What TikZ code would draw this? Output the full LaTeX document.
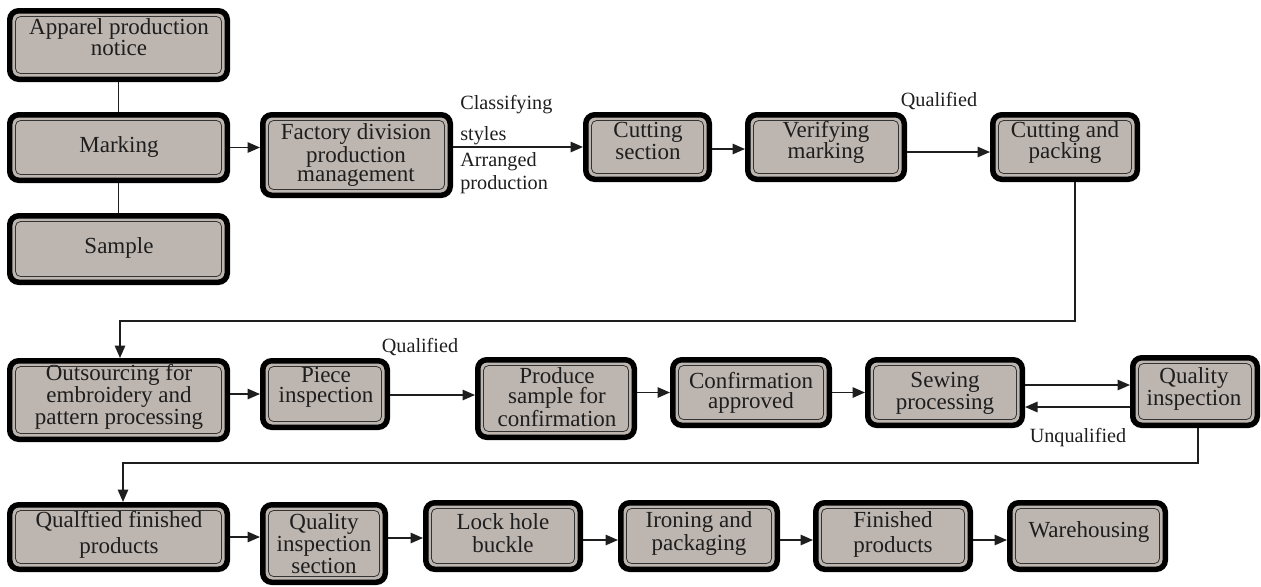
\documentclass[tikz,border=0pt]{standalone}
\usepackage{fontspec}
\setmainfont{Liberation Serif}
\usetikzlibrary{arrows.meta,calc}
\definecolor{boxgray}{RGB}{189,181,175}
\definecolor{inkc}{RGB}{30,30,30}
\tikzset{
  fbox/.style={draw=black, fill=boxgray, line width=0.11cm, rounded corners=0.18cm, inner sep=0pt},
  finner/.style={draw=black!80, line width=0.45pt, rounded corners=0.1cm},
  ftext/.style={align=center, inner sep=0pt, text=inkc},
  lbl/.style={inner sep=0pt, text=inkc, font=\fontsize{11.5}{13}\selectfont},
  conn/.style={draw=inkc, line width=0.03cm},
  arr/.style={conn, -{Triangle[length=0.25cm,width=0.21cm]}}
}
\newcommand\flowbox[9]{%
  \node[fbox, minimum width={(#4-#2-5.5)*0.02cm}, minimum height={(#5-#3-5.5)*0.02cm}] (#1) at ({(#2+#4)/2},{(#3+#5)/2}) {};
  \draw[finner] ($(#1.north west)+(8.5,8.5)$) rectangle ($(#1.south east)+(-8.5,-8.5)$);
  \node[ftext, font=\fontsize{13.1}{#8}\selectfont] (#1-t) at (#6,#7) {#9};
}
\begin{document}
\begin{tikzpicture}[x=0.02cm, y=-0.02cm]
\useasboundingbox (0,0) rectangle (1261,586);
% row 1
\flowbox{apn}{7}{8}{230}{82}{119}{37}{11.6pt}{Apparel production\\notice}
\flowbox{mark}{7}{112}{230}{183}{119}{147}{11pt}{Marking}
\flowbox{samp}{7}{213}{230}{285}{119}{248}{11pt}{Sample}
\flowbox{fdpm}{260}{112}{453}{198}{356}{155}{11pt}{Factory division\\production\\management}
\flowbox{cuts}{583}{112}{712}{182}{648}{141}{10.8pt}{Cutting\\section}
\flowbox{verm}{745}{112}{907}{182}{826}{142.5}{12pt}{Verifying\\marking}
\flowbox{cap}{990}{112}{1140}{182}{1065}{142.5}{12pt}{Cutting and\\packing}
% row 2
\flowbox{outs}{7}{358}{230}{442}{119}{397}{11pt}{Outsourcing for\\embroidery and\\pattern processing}
\flowbox{piece}{260}{358}{390}{430}{326}{387.5}{11.3pt}{Piece\\inspection}
\flowbox{prod}{475}{357}{637}{440}{557}{397}{11.3pt}{Produce\\sample for\\confirmation}
\flowbox{conf}{670}{357}{832}{428}{751}{393}{11.5pt}{Confirmation\\approved}
\flowbox{sew}{865}{357}{1025}{428}{945}{393}{11.5pt}{Sewing\\processing}
\flowbox{qi}{1130}{355}{1260}{428}{1194}{389}{12.5pt}{Quality\\inspection}
% row 3
\flowbox{qfp}{7}{502}{230}{572}{119}{535}{14.7pt}{Qualftied finished\\products}
\flowbox{qis}{260}{502}{388}{585}{324}{544}{11pt}{Quality\\inspection\\section}
\flowbox{lock}{423}{500}{583}{572}{503}{533.5}{13pt}{Lock hole\\buckle}
\flowbox{iron}{618}{500}{780}{572}{699}{533.5}{13pt}{Ironing and\\packaging}
\flowbox{fin}{813}{500}{973}{572}{893}{534.5}{14.2pt}{Finished\\products}
\flowbox{ware}{1007}{500}{1168}{572}{1089}{532}{11pt}{Warehousing}
% labels
\node[lbl, anchor=west] (l1) at (460,105) {Classifying};
\node[lbl, anchor=west] (l2) at (460,136) {styles};
\node[lbl, anchor=west] (l3) at (460,162) {Arranged};
\node[lbl, anchor=west] (l4) at (460,185) {production};
\node[lbl] (q1) at (939,101) {Qualified};
\node[lbl] (q2) at (420,347) {Qualified};
\node[lbl] (uq) at (1078,438) {Unqualified};
% connectors row 1
\draw[conn] (apn.south) -- (mark.north);
\draw[conn] (mark.south) -- (samp.north);
\draw[arr] (mark.east) -- (mark.east -| fdpm.west);
\draw[arr] (fdpm.east |- cuts.west) -- (cuts.west);
\draw[arr] ($(cuts.east)+(0,2)$) -- ($(verm.west)+(0,2)$);
\draw[arr] ($(verm.east)+(0,5)$) -- ($(cap.west)+(0,5)$);
\coordinate (c1) at (1075,321);
\coordinate (c2) at (120,321);
\draw[arr] (cap.south -| c1) -- (c1) -- (c2) -- (c2 |- outs.north);
% row 2
\draw[arr] (outs.east |- piece.west) -- (piece.west);
\draw[arr] ($(piece.east)+(0,1)$) -- ($(piece.east -| prod.west)+(0,1)$);
\draw[arr] (conf.west -| prod.east) -- (conf.west);
\draw[arr] (conf.east) -- (sew.west);
\draw[arr] ($(sew.east)+(0,-7.5)$) -- ($(sew.east -| qi.west)+(0,-7.5)$);
\draw[arr] ($(sew.east -| qi.west)+(0,14.5)$) -- ($(sew.east)+(0,14.5)$);
\coordinate (c3) at (1198,463);
\coordinate (c4) at (123,463);
\draw[arr] (qi.south -| c3) -- (c3) -- (c4) -- (c4 |- qfp.north);
% row 3
\draw[arr] (qfp.east) -- (qfp.east -| qis.west);
\draw[arr] ($(qis.east |- lock.west)+(0,2)$) -- ($(lock.west)+(0,2)$);
\draw[arr] ($(lock.east)+(0,4)$) -- ($(iron.west)+(0,4)$);
\draw[arr] ($(iron.east)+(0,4)$) -- ($(fin.west)+(0,4)$);
\draw[arr] ($(fin.east)+(0,4)$) -- ($(ware.west)+(0,4)$);
\end{tikzpicture}
\end{document}
